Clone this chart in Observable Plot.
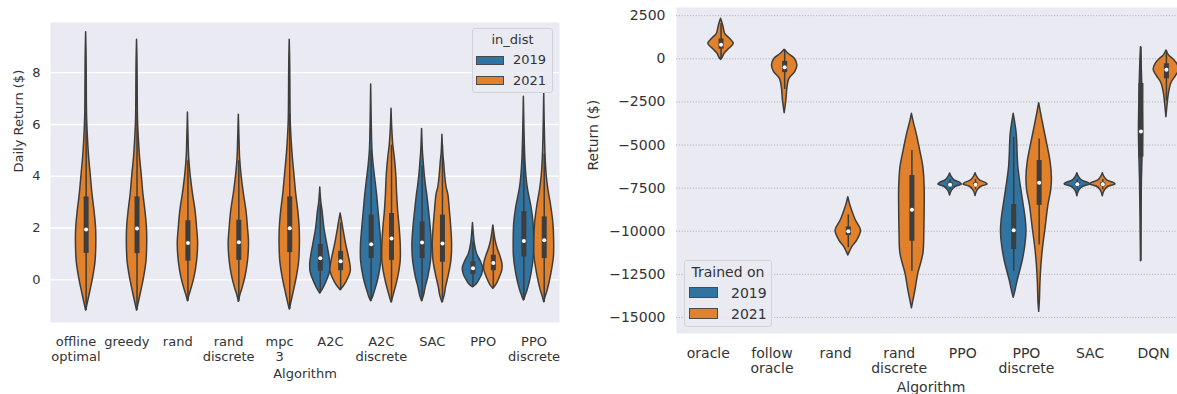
<!DOCTYPE html>
<html><head><meta charset="utf-8">
<script src="https://cdn.jsdelivr.net/npm/d3@7"></script>
<script src="https://cdn.jsdelivr.net/npm/@observablehq/plot@0.6"></script>
<style>
html,body{margin:0;padding:0;background:#fff;overflow:hidden;width:1177px;height:394px;}
#wrap{position:relative;width:1177px;height:394px;overflow:hidden;font-family:"DejaVu Sans",sans-serif;color:#333;}
.chart{position:absolute;top:0;}
.legend{position:absolute;box-sizing:border-box;border:1px solid #d2d2d8;border-radius:3px;background:rgba(234,234,242,0.85);}
.lg{position:absolute;white-space:nowrap;}
.sw{position:absolute;box-sizing:border-box;border:1px solid #4a4a4a;}
</style></head><body><div id="wrap"></div>
<script>
// ---------------- Left chart: Daily Return ----------------
const dailyAlgorithms = ["offline\noptimal","greedy","rand","rand\ndiscrete","mpc\n3","A2C","A2C\ndiscrete","SAC","PPO","PPO\ndiscrete"];
const yearNames = ["2019","2021"];
const yearColors = ["#3274A1","#E1812C"];
const dailyTicks = [0,2,4,6,8];
// [algorithm index, year]
const dailyViolins = [[0,"2021"],[1,"2021"],[2,"2021"],[3,"2021"],[4,"2021"],[5,"2019"],[5,"2021"],[6,"2019"],[6,"2021"],[7,"2019"],[7,"2021"],[8,"2019"],[8,"2021"],[9,"2019"],[9,"2021"]];
// density outline: [value, half width (band fraction)]
const dailyShapes = [
  [[9.56,0],[8.5,0.01],[7,0.014],[6.2,0.02],[5.3,0.04],[4.7,0.06],[4.1,0.088],[3.3,0.125],[2.65,0.165],[2.0,0.195],[1.4,0.2],[0.7,0.185],[0.1,0.14],[-0.55,0.072],[-0.9,0.033],[-1.19,0]],
  [[9.27,0],[8.3,0.01],[7,0.014],[6.1,0.02],[5.3,0.04],[4.7,0.06],[4.1,0.09],[3.3,0.125],[2.65,0.165],[2.0,0.195],[1.4,0.2],[0.7,0.185],[0.1,0.14],[-0.55,0.072],[-0.9,0.033],[-1.19,0]],
  [[6.46,0],[5.5,0.012],[4.7,0.025],[4.1,0.05],[3.6,0.08],[3.3,0.1],[2.65,0.15],[2.0,0.18],[1.4,0.2],[0.72,0.18],[0.1,0.13],[-0.35,0.07],[-0.6,0.03],[-0.83,0]],
  [[6.38,0],[5.5,0.012],[4.7,0.025],[4.1,0.05],[3.6,0.08],[3.3,0.1],[2.65,0.15],[2.0,0.18],[1.4,0.2],[0.72,0.18],[0.1,0.13],[-0.35,0.07],[-0.6,0.03],[-0.85,0]],
  [[9.27,0],[8.3,0.01],[7,0.014],[6.1,0.02],[5.3,0.04],[4.7,0.062],[4.1,0.09],[3.3,0.128],[2.65,0.168],[2.0,0.195],[1.4,0.2],[0.7,0.185],[0.1,0.14],[-0.55,0.07],[-0.9,0.03],[-1.15,0]],
  [[3.57,0],[3.0,0.02],[2.65,0.045],[2.0,0.08],[1.37,0.137],[0.9,0.18],[0.6,0.198],[0.3,0.19],[0,0.14],[-0.3,0.07],[-0.53,0]],
  [[2.56,0],[2.3,0.025],[2.0,0.05],[1.37,0.108],[0.9,0.16],[0.6,0.19],[0.33,0.2],[0.05,0.15],[-0.2,0.08],[-0.4,0]],
  [[7.54,0],[6,0.012],[5,0.025],[4.4,0.05],[3.9,0.08],[3.3,0.115],[2.65,0.145],[2.0,0.175],[1.37,0.2],[0.72,0.198],[0.08,0.147],[-0.4,0.08],[-0.65,0.04],[-0.83,0]],
  [[6.61,0],[5.8,0.015],[5.2,0.035],[4.7,0.065],[4.0,0.095],[3.3,0.11],[2.65,0.13],[2.0,0.16],[1.37,0.18],[0.72,0.18],[0.08,0.13],[-0.4,0.07],[-0.65,0.035],[-0.88,0]],
  [[5.83,0],[5,0.015],[4.6,0.03],[4.0,0.055],[3.58,0.08],[3.3,0.1],[2.65,0.137],[2.0,0.17],[1.37,0.19],[0.72,0.175],[0.08,0.12],[-0.3,0.07],[-0.6,0.04],[-0.83,0]],
  [[5.6,0],[4.9,0.015],[4.6,0.03],[4.0,0.055],[3.58,0.08],[3.3,0.115],[2.65,0.147],[2.0,0.174],[1.37,0.19],[0.72,0.175],[0.08,0.115],[-0.3,0.07],[-0.6,0.045],[-0.88,0]],
  [[2.19,0],[1.8,0.015],[1.4,0.035],[1.0,0.08],[0.72,0.15],[0.45,0.2],[0.2,0.18],[0.0,0.13],[-0.18,0.07],[-0.29,0]],
  [[2.1,0],[1.8,0.02],[1.5,0.045],[1.2,0.085],[0.9,0.14],[0.6,0.18],[0.35,0.175],[0.05,0.12],[-0.2,0.06],[-0.35,0]],
  [[7.07,0],[5.5,0.015],[4.6,0.03],[4.0,0.05],[3.5,0.08],[2.8,0.15],[2.17,0.19],[1.5,0.2],[0.88,0.195],[0.23,0.15],[-0.4,0.075],[-0.65,0.03],[-0.8,0]],
  [[7.2,0],[5.5,0.015],[4.6,0.03],[4.0,0.05],[3.5,0.08],[2.8,0.14],[2.17,0.18],[1.5,0.195],[0.88,0.19],[0.23,0.14],[-0.4,0.07],[-0.65,0.03],[-0.87,0]]
];
// [lower whisker, q1, median, q3, upper whisker]
const dailyBoxes = [
  [-1.19,1.02,1.94,3.2,6.45],[-1.19,1.01,1.98,3.2,6.45],[-0.83,0.72,1.42,2.28,4.6],[-0.85,0.75,1.45,2.3,4.6],[-1.15,1.05,1.99,3.2,6.4],
  [-0.53,0.33,0.83,1.37,2.9],[-0.4,0.35,0.72,1.1,2.2],[-0.83,0.82,1.37,2.5,5.0],[-0.88,0.75,1.6,2.56,5.2],
  [-0.83,0.82,1.44,2.24,4.4],[-0.88,0.68,1.4,2.5,5.2],[-0.29,0.2,0.45,0.7,1.45],[-0.35,0.35,0.65,0.95,1.85],
  [-0.8,0.88,1.5,2.63,5.2],[-0.87,0.82,1.53,2.43,4.85]
];

// ---------------- Right chart: Return ----------------
const returnAlgorithms = ["oracle","follow\noracle","rand","rand\ndiscrete","PPO","PPO\ndiscrete","SAC","DQN"];
const returnTicks = [2500,0,-2500,-5000,-7500,-10000,-12500,-15000];
const returnViolins = [[0,"2021"],[1,"2021"],[2,"2021"],[3,"2021"],[4,"2019"],[4,"2021"],[5,"2019"],[5,"2021"],[6,"2019"],[6,"2021"],[7,"2019"],[7,"2021"]];
const returnShapes = [
  [[2320,0],[2100,0.02],[1830,0.04],[1450,0.065],[1160,0.14],[870,0.2],[580,0.13],[290,0.055],[60,0.025],[-60,0]],
  [[520,0],[290,0.06],[0,0.16],[-390,0.2],[-775,0.165],[-1160,0.075],[-1645,0.045],[-2420,0.027],[-3155,0]],
  [[-8030,0],[-8400,0.025],[-8800,0.06],[-9380,0.12],[-9960,0.2],[-10540,0.14],[-10930,0.06],[-11200,0.025],[-11410,0]],
  [[-3190,0],[-3700,0.03],[-4350,0.075],[-5320,0.13],[-6300,0.18],[-7450,0.2],[-8800,0.2],[-10000,0.195],[-11310,0.18],[-12470,0.1],[-13440,0.055],[-14000,0.025],[-14465,0]],
  [[-6650,0],[-6850,0.025],[-7050,0.07],[-7200,0.16],[-7300,0.185],[-7420,0.09],[-7650,0.03],[-7930,0]],
  [[-6640,0],[-6850,0.025],[-7050,0.07],[-7200,0.16],[-7300,0.19],[-7420,0.09],[-7650,0.03],[-7960,0]],
  [[-3190,0],[-4350,0.047],[-6290,0.073],[-8220,0.146],[-9200,0.185],[-10000,0.2],[-10900,0.18],[-11740,0.14],[-12900,0.06],[-13500,0.025],[-13860,0]],
  [[-2575,0],[-3500,0.047],[-4650,0.11],[-6000,0.18],[-6900,0.2],[-7600,0.19],[-8500,0.145],[-9700,0.105],[-11000,0.06],[-12000,0.035],[-13000,0.02],[-14000,0.012],[-14675,0]],
  [[-6635,0],[-6850,0.025],[-7050,0.07],[-7200,0.17],[-7280,0.2],[-7420,0.09],[-7650,0.03],[-7970,0]],
  [[-6640,0],[-6850,0.025],[-7050,0.07],[-7200,0.17],[-7280,0.2],[-7420,0.09],[-7650,0.03],[-7970,0]],
  [[675,0],[0,0.008],[-1500,0.02],[-3000,0.028],[-4200,0.032],[-5500,0.026],[-7000,0.015],[-9000,0.008],[-11740,0]],
  [[480,0],[200,0.04],[0,0.1],[-300,0.17],[-650,0.2],[-1000,0.15],[-1400,0.08],[-2000,0.04],[-2800,0.015],[-3390,0]]
];
const returnBoxes = [
  [-60,560,820,1150,2035],[-1775,-800,-490,-150,520],[-10950,-10250,-10000,-9750,-9050],[-12320,-10580,-8760,-6770,-5320],
  [-7600,-7400,-7300,-7200,-7000],[-7600,-7400,-7300,-7200,-7000],
  [-12320,-11060,-9940,-8450,-4550],[-10800,-8500,-7190,-5900,-4650],
  [-7600,-7400,-7280,-7180,-7000],[-7600,-7400,-7280,-7180,-7000],
  [-11740,-5700,-4220,-1430,675],[-2465,-1160,-640,-290,480]
];

// ---------------- drawing ----------------
function violinChart(o) {
  const n = o.algorithms.length;
  const dodge = {"2019": -0.2, "2021": 0.2};
  const rows = [];
  o.violins.forEach(([a, yr], k) => {
    const c = a + dodge[yr];
    o.shapes[k].forEach(([v, w]) => rows.push({id: k, year: yr, v, x1: c - w, x2: c + w}));
  });
  const stats = o.violins.map(([a, yr], k) => {
    const [lo, q1, med, q3, hi] = o.boxes[k];
    return {c: a + dodge[yr], lo, q1, med, q3, hi};
  });
  const ink = "#3d3d3d";
  const grid = o.dotted
    ? Plot.ruleY(o.ticks, {stroke: "#b4b4bc", strokeWidth: 1, strokeDasharray: "1.2,1.6"})
    : Plot.ruleY(o.ticks, {stroke: "#ffffff", strokeWidth: 1.3});
  return Plot.plot({
    width: o.width, height: o.height,
    marginLeft: o.margin[0], marginRight: o.margin[1], marginTop: o.margin[2], marginBottom: o.margin[3],
    style: {fontFamily: "DejaVu Sans, sans-serif", fontSize: o.fontSize + "px", color: "#333", background: "transparent"},
    x: {domain: [-0.5, n - 0.5], axis: null},
    y: {domain: o.yDomain, ticks: o.ticks, tickSize: 0, tickPadding: o.tickPadding, tickFormat: d3.format("d"), label: null},
    color: {domain: yearNames, range: yearColors},
    marks: [
      Plot.frame({fill: "#EAEAF2", stroke: "none"}),
      grid,
      Plot.areaX(rows, {y: "v", x1: "x1", x2: "x2", z: "id", fill: "year", stroke: ink, strokeWidth: o.lw, curve: "catmull-rom"}),
      Plot.ruleX(stats, {x: "c", y1: "lo", y2: "hi", stroke: ink, strokeWidth: o.lw}),
      Plot.ruleX(stats, {x: "c", y1: "q1", y2: "q3", stroke: ink, strokeWidth: o.boxW}),
      Plot.dot(stats, {x: "c", y: "med", r: 2, fill: "white", stroke: "none"}),
      Plot.text(d3.range(n), {x: d => d, text: d => o.algorithms[d], frameAnchor: "bottom", lineAnchor: "top", dy: o.tickDy, lineHeight: o.lineHeight, fontSize: o.fontSize, fill: "#333"}),
      Plot.text([o.xLabel], {text: d => d, frameAnchor: "bottom", lineAnchor: "middle", dy: o.xLabelDy, fontSize: o.fontSize, fill: "#333"}),
      Plot.text([o.yLabel], {text: d => d, frameAnchor: "left", lineAnchor: "middle", rotate: -90, dx: o.yLabelDx, fontSize: o.fontSize, fill: "#333"})
    ]
  });
}

function addLegend(parent, o) {
  const box = document.createElement("div");
  box.className = "legend";
  Object.assign(box.style, {left: o.left + "px", top: o.top + "px", width: o.width + "px", height: o.height + "px", fontSize: o.fontSize + "px"});
  const t = document.createElement("div");
  t.className = "lg"; t.textContent = o.title;
  Object.assign(t.style, {left: "0px", width: "100%", textAlign: "center", top: (o.titleY - 10) + "px", lineHeight: "20px"});
  box.append(t);
  yearNames.forEach((name, i) => {
    const sw = document.createElement("div");
    sw.className = "sw";
    Object.assign(sw.style, {left: o.swX + "px", top: o.swY[i] + "px", width: o.swW + "px", height: o.swH + "px", background: yearColors[i]});
    const lab = document.createElement("div");
    lab.className = "lg"; lab.textContent = name;
    Object.assign(lab.style, {left: o.labX + "px", top: (o.labY[i] - 10) + "px", lineHeight: "20px"});
    box.append(sw, lab);
  });
  parent.append(box);
}

const wrap = document.getElementById("wrap");

const left = violinChart({
  algorithms: dailyAlgorithms, violins: dailyViolins, shapes: dailyShapes, boxes: dailyBoxes,
  ticks: dailyTicks, yDomain: [-1.65, 9.94], width: 570, height: 394, margin: [50, 11, 22, 72],
  fontSize: 13, lineHeight: 1.15, tickPadding: 10, tickDy: 12.6, xLabelDy: 51, yLabelDx: -32,
  xLabel: "Algorithm", yLabel: "Daily Return ($)", lw: 1.5, boxW: 5, dotted: false
});
left.classList.add("chart"); left.style.left = "0px";
wrap.append(left);

const right = violinChart({
  algorithms: returnAlgorithms, violins: returnViolins, shapes: returnShapes, boxes: returnBoxes,
  ticks: returnTicks, yDomain: [-15930, 2975], width: 605, height: 394, margin: [96, 0, 7, 61],
  fontSize: 14, lineHeight: 1.07, tickPadding: 11, tickDy: 13.9, xLabelDy: 53.7, yLabelDx: -82.5,
  xLabel: "Algorithm", yLabel: "Return ($)", lw: 1.5, boxW: 5, dotted: true
});
right.classList.add("chart"); right.style.left = "580px";
wrap.append(right);

addLegend(wrap, {left: 472, top: 28, width: 81, height: 65, fontSize: 13, title: "in_dist", titleY: 11,
  swX: 3, swY: [27, 47], swW: 28, swH: 9, labX: 40, labY: [31, 52]});
addLegend(wrap, {left: 684, top: 260, width: 88, height: 67, fontSize: 14, title: "Trained on", titleY: 11,
  swX: 4, swY: [26, 47], swW: 29, swH: 11, labX: 46, labY: [32, 53]});
</script></body></html>
